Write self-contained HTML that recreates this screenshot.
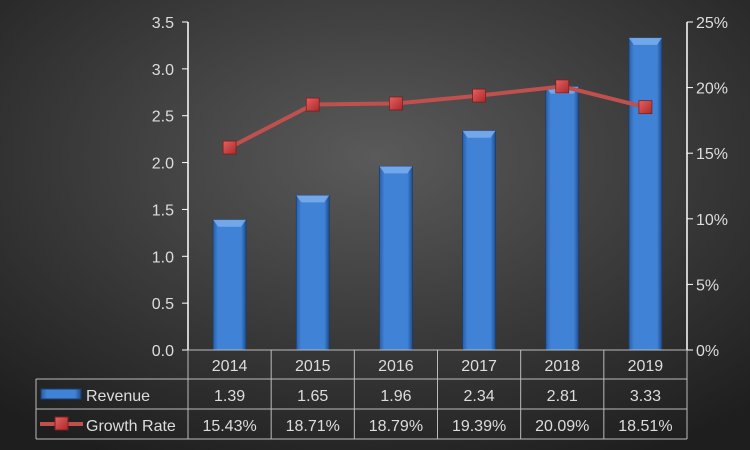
<!DOCTYPE html>
<html><head><meta charset="utf-8"><style>
html,body{margin:0;padding:0;width:750px;height:450px;overflow:hidden;background:#333}
svg{display:block;font-family:"Liberation Sans",sans-serif}
</style></head><body>
<svg id="c" width="750" height="450">
<defs>
<radialGradient id="bg" cx="0.5" cy="0.35" r="0.75">
<stop offset="0" stop-color="#5a5a5a"/><stop offset="1" stop-color="#1e1e1e"/></radialGradient>
<linearGradient id="bar" x1="0" x2="1" y1="0" y2="0">
<stop offset="0" stop-color="#2a5ea6"/><stop offset="0.15" stop-color="#3f82d6"/><stop offset="0.85" stop-color="#3f82d6"/><stop offset="1" stop-color="#1f4d8c"/></linearGradient>
<linearGradient id="mk" x1="0" x2="1" y1="0" y2="1">
<stop offset="0" stop-color="#e86060"/><stop offset="1" stop-color="#a82a2a"/></linearGradient>
</defs>
<rect width="750" height="450" fill="url(#bg)"/>
<g id="g"></g>
</svg>
<script>
const categories=["2014","2015","2016","2017","2018","2019"];
const revenue=[1.39,1.65,1.96,2.34,2.81,3.33];
const growth=[15.43,18.71,18.79,19.39,20.09,18.51];
const leftTicks=["0.0","0.5","1.0","1.5","2.0","2.5","3.0","3.5"];
const rightTicks=["0%","5%","10%","15%","20%","25%"];
const NS="http://www.w3.org/2000/svg";
const g=document.getElementById('g');
const X0=188,X1=687,Y0=350,Y1=22,cw=(X1-X0)/categories.length;
const yL=v=>Y0-(v/3.5)*(Y0-Y1);
const yR=v=>Y0-(v/25)*(Y0-Y1);
const xC=i=>X0+cw*(i+0.5);
function el(t,a,txt){const e=document.createElementNS(NS,t);for(const k in a)e.setAttribute(k,a[k]);if(txt!=null)e.textContent=txt;g.appendChild(e);return e;}
// axes
let e=el('line',{x1:X0,y1:Y1,x2:X0,y2:Y0,stroke:'#fff','stroke-width':1.5});

e=el('line',{x1:X1,y1:Y1,x2:X1,y2:Y0,stroke:'#fff','stroke-width':1.5});

leftTicks.forEach((t,i)=>{const y=yL(parseFloat(t));
el('line',{x1:X0-6,y1:y,x2:X0,y2:y,stroke:'#fff'});
const tx=el('text',{x:X0-14,y:y+6,'text-anchor':'end',fill:'#ddd','font-size':16},t);
});
rightTicks.forEach((t,i)=>{const y=yR(parseFloat(t));
el('line',{x1:X1,y1:y,x2:X1+6,y2:y,stroke:'#fff'});
const tx=el('text',{x:X1+9,y:y+6,fill:'#ddd','font-size':16},t);
});
// bars
revenue.forEach((v,i)=>{const w=33,x=xC(i)-w/2,y=yL(v);
const r=el('rect',{x:x,y:y,width:w,height:Y0-y,fill:'url(#bar)',stroke:'#1a3e70','stroke-width':0.8});

el('polygon',{points:`${x},${y} ${x+w},${y} ${x+w-5},${y+7} ${x+5},${y+7}`,fill:'#7fb2ee',opacity:0.8});});
// line
const pl=el('polyline',{points:growth.map((v,i)=>xC(i)+','+yR(v)).join(' '),fill:'none',stroke:'#c0504d','stroke-width':4});

growth.forEach((v,i)=>{const m=el('rect',{x:xC(i)-6.5,y:yR(v)-6.5,width:13,height:13,fill:'url(#mk)',stroke:'#7a1f1f','stroke-width':0.8});
});
// table
const TL=36,rows=[350,379,409,439],gc='#bbb';
el('line',{x1:X0,y1:350,x2:X1,y2:350,stroke:gc});
[379,409,439].forEach(y=>el('line',{x1:TL,y1:y,x2:X1,y2:y,stroke:gc}));
el('line',{x1:TL,y1:379,x2:TL,y2:439,stroke:gc});
for(let i=0;i<=categories.length;i++){const x=X0+cw*i;el('line',{x1:x,y1:350,x2:x,y2:439,stroke:gc});}
categories.forEach((c,i)=>{let t=el('text',{x:xC(i),y:371,'text-anchor':'middle',fill:'#ddd','font-size':16},c);

t=el('text',{x:xC(i),y:401,'text-anchor':'middle',fill:'#ddd','font-size':16},revenue[i].toFixed(2));

t=el('text',{x:xC(i),y:431,'text-anchor':'middle',fill:'#ddd','font-size':16},growth[i].toFixed(2)+'%');
});
// legend keys
let k=el('rect',{x:41,y:389,width:40,height:10,fill:'url(#bar)',stroke:'#1a3e70'});

let t=el('text',{x:86,y:401,fill:'#ddd','font-size':16},'Revenue');

el('line',{x1:40,y1:424,x2:83,y2:424,stroke:'#c0504d','stroke-width':4});
k=el('rect',{x:55,y:417,width:13,height:13,fill:'url(#mk)',stroke:'#7a1f1f'});

t=el('text',{x:86,y:431,fill:'#ddd','font-size':16},'Growth Rate');

</script>
</body></html>
